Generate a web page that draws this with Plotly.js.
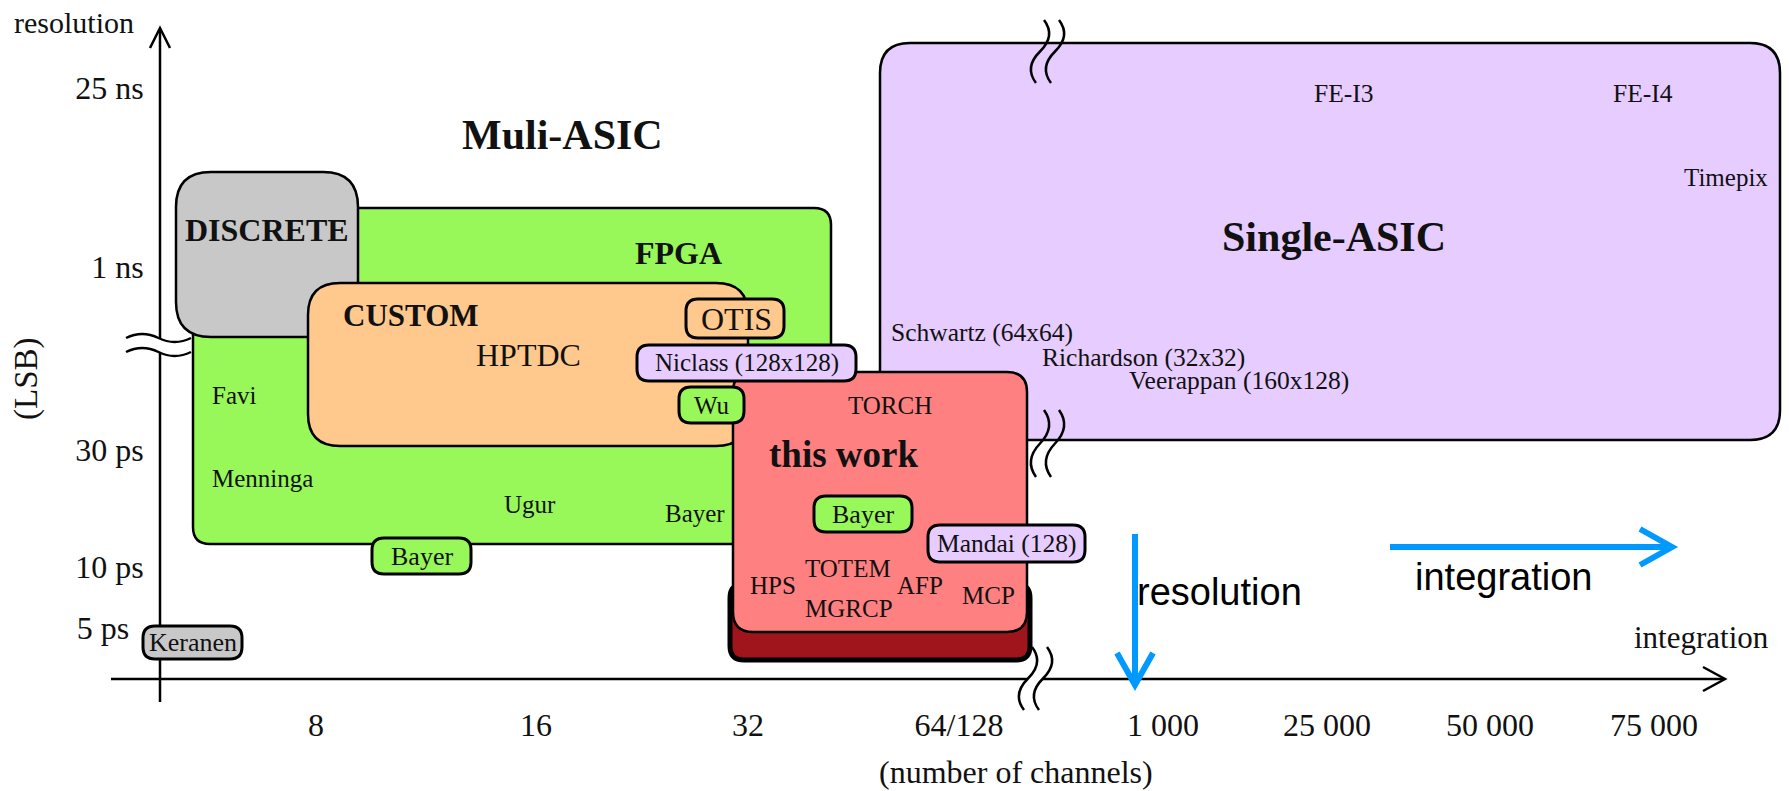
<!DOCTYPE html>
<html><head><meta charset="utf-8">
<script src="https://cdn.plot.ly/plotly-3.0.1.min.js"></script>
<style>html,body{margin:0;padding:0;background:#fff;}</style>
</head><body><div id="chart" style="width:1789px;height:791px;"></div>
<script>
// ---- axis ticks (diagram units: x = distance right of the resolution axis, y = height above the integration axis)
const xTickLabels = ['8','16','32','64/128','1 000','25 000','50 000','75 000'];
const xTickPos    = [156,376,588,799,1003,1167,1330,1494];
const yTickLabels = ['25 ns','1 ns','30 ps','10 ps','5 ps\u00a0\u2009'];
const yTickPos    = [591,412,229,112,51];

// ---- technology regions (drawn in this order)
const regionNames = ['FPGA','DISCRETE','CUSTOM','Single-ASIC','OTIS','this work base','this work',
                     'Niclass (128x128)','Wu','Bayer (this work)','Mandai (128)','Bayer','Keranen'];
const regionKind  = ['fpga','discrete','custom','single','custom','base','work',
                     'single','fpga','fpga','single','fpga','discrete'];
const regionX0 = [33, 16, 148, 720, 526, 570, 573, 477, 519, 654, 768, 212, -17];
const regionX1 = [671,198, 588,1620, 624, 870, 867, 696, 584, 752, 925, 311,  82];
const regionY0 = [135,342, 233, 239, 341,  19,  47, 298, 256, 147, 117, 105,  20];
const regionY1 = [471,507, 396, 636, 380,  95, 307, 334, 292, 183, 154, 141,  53];
const regionBig = [true,true,true,true,false,true,true,false,false,false,false,false,false];

// ---- texts
const labelText = ['<b>Muli-ASIC</b>','<b>DISCRETE</b>','<b>FPGA</b>','<b>CUSTOM</b>','HPTDC','OTIS',
  'Niclass (128x128)','Wu','Favi','Menninga','Ugur','Bayer','Bayer','Bayer','Keranen','TORCH',
  '<b>this work</b>','Mandai (128)','HPS','TOTEM','MGRCP','AFP','MCP','<b>Single-ASIC</b>',
  'FE-I3','FE-I4','Timepix','Schwartz (64x64)','Richardson (32x32)','Veerappan (160x128)'];
const labelX = [402,107,518,251,368,576,587,552,50,50,370,535,703,262,33,730,683,847,613,688,689,760,828,1174,1184,1483,1566,729,880,967];
const labelY = [544,449,426,364,324,360,316,274,284,201,175,166,165,123,37,274,225,136,94,111,71,94,84,442,586,586,502,347,322,299];
const labelSize = [42,32,32,31,32,32,25,25,25,25,25,25,26,26,26,25,37,25.5,25,25,25,25,25,42,25.5,25.5,25,25.5,25.5,25.5];
const labelAlign = ['center','center','center','center','center','center','center','center','left','left','center','center','center','center','center','center','center','center','center','center','center','center','center','center','center','center','center','left','left','left'];

// ---- blue trend arrows
const trendText = ['resolution','integration'];
const trendFromX = [975, 1230], trendFromY = [145, 132];
const trendToX   = [975, 1512], trendToY   = [-6, 132];
const trendLabelX = [975, 1343], trendLabelY = [87, 102];

// ---- axis breaks
const breakX = [880, 880, 868], breakTop = [659, 269, 32], breakBottom = [596, 202, -31];

// ---- styles
const SERIF = 'Liberation Serif, Times New Roman, serif';
const SANS = 'Liberation Sans, Arial, sans-serif';
const fills = {fpga:'#98f85a', discrete:'#c8c8c8', custom:'#ffc88c', single:'#e6ccff', base:'#a0151c', work:'#ff8080'};
const radius = {fpga:17, discrete:35, custom:32, single:30, base:14, work:20};

function rr(x0,y0,x1,y1,r){
  r = Math.min(r,(x1-x0)/2,(y1-y0)/2);
  return `M${x0+r},${y0} L${x1-r},${y0} Q${x1},${y0} ${x1},${y0+r} L${x1},${y1-r} Q${x1},${y1} ${x1-r},${y1} `+
         `L${x0+r},${y1} Q${x0},${y1} ${x0},${y1-r} L${x0},${y0+r} Q${x0},${y0} ${x0+r},${y0} Z`;
}
const shapes = [];
const S = (o)=>shapes.push(Object.assign({xref:'x', yref:'y', layer:'above'}, o));

// axes lines + arrowheads
S({type:'line', x0:0, x1:0, y0:-23, y1:650, line:{color:'#000', width:2.5}});
S({type:'path', path:'M-10,631 L0,651 L10,631', line:{color:'#000', width:2.5}});
S({type:'line', x0:-49, x1:1564, y0:0, y1:0, line:{color:'#000', width:2.5}});
S({type:'path', path:'M1543,12 L1565,0 L1543,-12', line:{color:'#000', width:2.5}});

// y-axis break
(function(){
  const x0=-34, x1=31, w=x1-x0, a=8, yu=341, yl=327;
  const cu = (y)=>`Q${x0+w/4},${y+a} ${x0+w/2},${y} Q${x0+3*w/4},${y-a} ${x1},${y}`;
  S({type:'path', path:`M${x0},${yu} ${cu(yu)} L${x1},${yl} Q${x0+3*w/4},${yl-a} ${x0+w/2},${yl} Q${x0+w/4},${yl+a} ${x0},${yl} Z`, fillcolor:'#fff', line:{width:0}});
  S({type:'path', path:`M${x0},${yu} ${cu(yu)}`, line:{color:'#000', width:2.5}});
  S({type:'path', path:`M${x0},${yl} ${cu(yl)}`, line:{color:'#000', width:2.5}});
})();

// regions
for (let i=0;i<regionNames.length;i++){
  const k = regionKind[i];
  const r = regionBig[i] ? radius[k] : 12;
  const lw = k==='base' ? 5 : (regionBig[i] ? 2.5 : 3);
  S({type:'path', path: rr(regionX0[i],regionY0[i],regionX1[i],regionY1[i],r), fillcolor: fills[k], line:{color:'#000', width:lw}});
}

// vertical breaks
for (let i=0;i<breakX.length;i++){
  const t=breakTop[i], b=breakBottom[i], h=t-b, a=12;
  const curve=(cx)=>`M${cx+4},${t} Q${cx+4+a},${t-h/4} ${cx},${t-h/2} Q${cx-4-a},${t-3*h/4} ${cx-4},${b}`;
  if (i===2){
    const c1=breakX[i], c2=breakX[i]+15;
    S({type:'path', path:`M${c1+4},${t} Q${c1+4+a},${t-h/4} ${c1},${t-h/2} Q${c1-4-a},${t-3*h/4} ${c1-4},${b} L${c2-4},${b} Q${c2-4-a},${t-3*h/4} ${c2},${t-h/2} Q${c2+4+a},${t-h/4} ${c2+4},${t} Z`, fillcolor:'#fff', line:{width:0}});
  }
  S({type:'path', path:curve(breakX[i]), line:{color:'#000', width:2.5}});
  S({type:'path', path:curve(breakX[i]+15), line:{color:'#000', width:2.5}});
}

// blue arrows
for (let i=0;i<trendText.length;i++){
  S({type:'line', x0:trendFromX[i], y0:trendFromY[i], x1:trendToX[i], y1:trendToY[i], line:{color:'#0099ff', width:6}});
  const dx = trendToX[i]-trendFromX[i], dy = trendToY[i]-trendFromY[i], L=Math.hypot(dx,dy);
  const ux=dx/L, uy=dy/L, px=-uy, py=ux, back=32, half=18;
  const bx=trendToX[i]-ux*back, by=trendToY[i]-uy*back;
  S({type:'path', path:`M${bx+px*half},${by+py*half} L${trendToX[i]},${trendToY[i]} L${bx-px*half},${by-py*half}`, line:{color:'#0099ff', width:6}});
}

const annotations = [];
for (let i=0;i<labelText.length;i++){
  annotations.push({x:labelX[i], y:labelY[i], xref:'x', yref:'y', text:labelText[i], showarrow:false,
    xanchor:labelAlign[i], yanchor:'middle', font:{family:SERIF, size:labelSize[i], color:'#111'}});
}
for (let i=0;i<trendText.length;i++){
  annotations.push({x:trendLabelX[i], y:trendLabelY[i], xref:'x', yref:'y', text:trendText[i], showarrow:false,
    xanchor: i===0?'left':'center', yanchor:'middle', font:{family:SANS, size:38, color:'#000'}});
}
annotations.push({x:-148, y:657, xref:'x', yref:'y', text:'resolution', showarrow:false, xanchor:'left', yanchor:'middle', font:{family:SERIF, size:30, color:'#111'}});
annotations.push({x:-134, y:300, xref:'x', yref:'y', text:'(LSB)', textangle:-90, showarrow:false, xanchor:'center', yanchor:'middle', font:{family:SERIF, size:33, color:'#111'}});
annotations.push({x:1541, y:42, xref:'x', yref:'y', text:'integration', showarrow:false, xanchor:'center', yanchor:'middle', font:{family:SERIF, size:31, color:'#111'}});
annotations.push({x:856, y:-93, xref:'x', yref:'y', text:'(number of channels)', showarrow:false, xanchor:'center', yanchor:'middle', font:{family:SERIF, size:32, color:'#111'}});

const layout = {
  width:1789, height:791, margin:{l:0,r:0,t:0,b:0,pad:0},
  paper_bgcolor:'#fff', plot_bgcolor:'#fff', showlegend:false,
  xaxis:{range:[-160,1629], anchor:'free', position:112/791, tickmode:'array', tickvals:xTickPos, ticktext:xTickLabels,
    ticks:'outside', ticklen:18, tickcolor:'rgba(0,0,0,0)', showline:false, showgrid:false, zeroline:false,
    tickfont:{family:SERIF, size:32, color:'#111'}, fixedrange:true},
  yaxis:{range:[-112,679], anchor:'free', position:160/1789, tickmode:'array', tickvals:yTickPos, ticktext:yTickLabels,
    ticks:'outside', ticklen:10, tickcolor:'rgba(0,0,0,0)', showline:false, showgrid:false, zeroline:false,
    tickfont:{family:SERIF, size:32, color:'#111'}, fixedrange:true},
  shapes, annotations
};
Plotly.newPlot('chart', [{x:[0], y:[0], mode:'markers', marker:{opacity:0}, hoverinfo:'skip'}], layout, {staticPlot:true, displayModeBar:false});
</script></body></html>
